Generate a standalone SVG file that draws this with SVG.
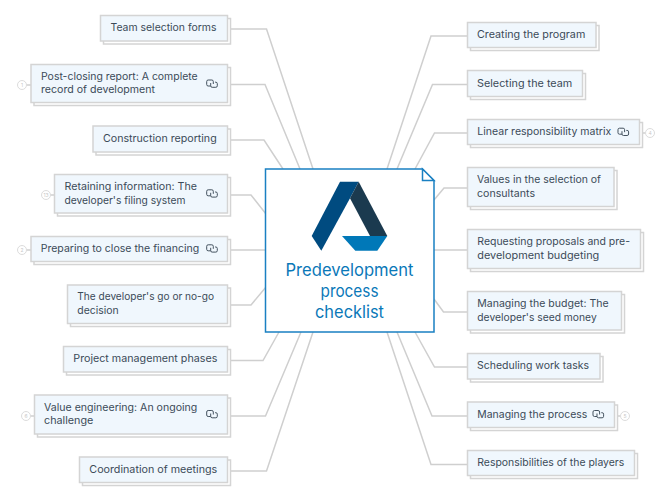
<svg xmlns="http://www.w3.org/2000/svg" width="672" height="500" viewBox="0 0 672 500">
<style>
.c{fill:none;stroke:#cfcfcf;stroke-width:1.5}
.s{fill:#fff;stroke:#d4d4d4;stroke-width:1.5}
.b{fill:#f0f7fd;stroke:#d4d4d4;stroke-width:1.5}
.t{font-family:Inter,"Noto Sans",sans-serif;font-size:10.500px;fill:#3b4a58}
.h{font-family:Inter,"Noto Sans",sans-serif;font-size:17px;fill:#0a78b8;text-anchor:middle}
.n{font-family:Inter,"Noto Sans",sans-serif;font-size:5px;fill:#c8c8c8;text-anchor:middle}
.o{fill:#fff;stroke:#dcdcdc;stroke-width:1}
.i{fill:none;stroke:#44525f;stroke-width:1}
</style>
<defs>
<g id="lnk"><path class="i" d="M-1.300 2.500H-3.800A1.500 1.500 0 0 1-5.300 1V-2A1.500 1.500 0 0 1-3.800-3.500H-.2A1.500 1.500 0 0 1 1.300-2V.5"/><path class="i" d="M-1.300 -.5V2.300A1.500 1.500 0 0 0 .2 3.800H3.800A1.500 1.500 0 0 0 5.300 2.300V.2A1.500 1.500 0 0 0 3.800-1.300H3"/></g>
</defs>
<g id="connectors">
<path class="c" d="M231 29H266.500L313 169"/>
<path class="c" d="M231 84.500H265L300 169"/>
<path class="c" d="M231 140H264L283 169"/>
<path class="c" d="M231 195H251L266 214"/>
<path class="c" d="M231 250H266"/>
<path class="c" d="M231 305H251L266 287"/>
<path class="c" d="M231 360.500H263L279 332"/>
<path class="c" d="M231 416H265.500L301 332"/>
<path class="c" d="M231 471H266.500L313 332"/>
<path class="c" d="M467 36H431L387 169"/>
<path class="c" d="M467 84.500H432.500L397 169"/>
<path class="c" d="M467 133H434.500L415 169"/>
<path class="c" d="M467 188H444L434 200"/>
<path class="c" d="M467 250H434"/>
<path class="c" d="M467 312H443.500L434 299"/>
<path class="c" d="M467 367H434.500L415 332"/>
<path class="c" d="M467 416H432L397 332"/>
<path class="c" d="M467 464.500H431L387 332"/>
<path class="c" d="M26.500 85H31M50.500 195H55M26.500 250H31M30.500 416H35M639 133H645.500M615 416H620.500"/>
</g>
<g id="center">
<path d="M265.500 169H422.500L434 180.500V332H265.500Z" fill="#fff" stroke="#1a80c2" stroke-width="1.500"/>
<path d="M422.500 169V180.500H434Z" fill="#fff" stroke="#1a80c2" stroke-width="1.500"/>
<polygon points="340,181.700 358.700,181.700 350,198.300 321.300,250.700 311.700,236" fill="#004b80"/>
<polygon points="358.700,181.700 387.300,236 370,236 350,198.300" fill="#1b3a4f"/>
<polygon points="342,236 387.300,236 377.300,250.700 355.300,250.700" fill="#0078b8"/>
<text class="h" x="349.500" y="276.300" textLength="128" lengthAdjust="spacingAndGlyphs">Predevelopment</text>
<text class="h" x="349.500" y="297.300" textLength="58" lengthAdjust="spacingAndGlyphs">process</text>
<text class="h" x="349.500" y="318" textLength="69" lengthAdjust="spacingAndGlyphs">checklist</text>
</g>
<g id="n1"><rect class="s" x="103.500" y="18.500" width="127" height="25.500"/><rect class="b" x="100.500" y="15.500" width="127" height="25.500"/><text class="t" x="110.500" y="31.300" textLength="106" lengthAdjust="spacingAndGlyphs">Team selection forms</text></g>
<g id="n2"><rect class="s" x="34" y="67.500" width="196.500" height="38"/><rect class="b" x="31" y="64.500" width="196.500" height="38"/><text class="t" x="41" y="79.800" textLength="156.700" lengthAdjust="spacingAndGlyphs">Post-closing report: A complete</text><text class="t" x="41" y="93.300" textLength="114" lengthAdjust="spacingAndGlyphs">record of development</text><use href="#lnk" x="212" y="83.500"/><circle class="o" cx="22" cy="85" r="4.500"/><text class="n" x="22" y="86.800">1</text></g>
<g id="n3"><rect class="s" x="96" y="129" width="134.500" height="26"/><rect class="b" x="93" y="126" width="134.500" height="26"/><text class="t" x="103" y="141.800" textLength="113.700" lengthAdjust="spacingAndGlyphs">Construction reporting</text></g>
<g id="n4"><rect class="s" x="57.500" y="177.500" width="173" height="38.500"/><rect class="b" x="54.500" y="174.500" width="173" height="38.500"/><text class="t" x="64.500" y="190.300" textLength="132.500" lengthAdjust="spacingAndGlyphs">Retaining information: The</text><text class="t" x="64.500" y="203.600" textLength="121" lengthAdjust="spacingAndGlyphs">developer's filing system</text><use href="#lnk" x="212" y="193.300"/><circle class="o" cx="46" cy="195" r="4.500"/><text class="n" x="46" y="196.800">13</text></g>
<g id="n5"><rect class="s" x="34" y="239.500" width="196.500" height="25"/><rect class="b" x="31" y="236.500" width="196.500" height="25"/><text class="t" x="40.700" y="252" textLength="158.600" lengthAdjust="spacingAndGlyphs">Preparing to close the financing</text><use href="#lnk" x="212" y="248.300"/><circle class="o" cx="22" cy="250" r="4.500"/><text class="n" x="22" y="251.800">2</text></g>
<g id="n6"><rect class="s" x="70.500" y="288" width="160" height="38.500"/><rect class="b" x="67.500" y="285" width="160" height="38.500"/><text class="t" x="77.300" y="300.300" textLength="136.700" lengthAdjust="spacingAndGlyphs">The developer's go or no-go</text><text class="t" x="77.300" y="313.600" textLength="41.400" lengthAdjust="spacingAndGlyphs">decision</text></g>
<g id="n7"><rect class="s" x="66.500" y="349.500" width="164" height="25.500"/><rect class="b" x="63.500" y="346.500" width="164" height="25.500"/><text class="t" x="73.300" y="362.300" textLength="144" lengthAdjust="spacingAndGlyphs">Project management phases</text></g>
<g id="n8"><rect class="s" x="37.500" y="398" width="193" height="39"/><rect class="b" x="34.500" y="395" width="193" height="39"/><text class="t" x="44" y="410.600" textLength="153.300" lengthAdjust="spacingAndGlyphs">Value engineering: An ongoing</text><text class="t" x="44" y="424.300" textLength="49.300" lengthAdjust="spacingAndGlyphs">challenge</text><use href="#lnk" x="212" y="414"/><circle class="o" cx="26" cy="416" r="4.500"/><text class="n" x="26" y="417.800">6</text></g>
<g id="n9"><rect class="s" x="82.500" y="460" width="148" height="25.500"/><rect class="b" x="79.500" y="457" width="148" height="25.500"/><text class="t" x="89.300" y="472.600" textLength="128" lengthAdjust="spacingAndGlyphs">Coordination of meetings</text></g>
<g id="n10"><rect class="s" x="470.500" y="25.500" width="128.500" height="25"/><rect class="b" x="467.500" y="22.500" width="128.500" height="25"/><text class="t" x="477" y="38.300" textLength="108.300" lengthAdjust="spacingAndGlyphs">Creating the program</text></g>
<g id="n11"><rect class="s" x="470.500" y="73.500" width="115" height="26"/><rect class="b" x="467.500" y="70.500" width="115" height="26"/><text class="t" x="477" y="86.600" textLength="95.300" lengthAdjust="spacingAndGlyphs">Selecting the team</text></g>
<g id="n12"><rect class="s" x="470.500" y="122.500" width="172" height="25"/><rect class="b" x="467.500" y="119.500" width="172" height="25"/><text class="t" x="477.300" y="135.300" textLength="134" lengthAdjust="spacingAndGlyphs">Linear responsibility matrix</text><use href="#lnk" x="623.300" y="131.700"/><circle class="o" cx="650" cy="133" r="4.500"/><text class="n" x="650" y="134.800">4</text></g>
<g id="n13"><rect class="s" x="470.500" y="170.500" width="146.500" height="39"/><rect class="b" x="467.500" y="167.500" width="146.500" height="39"/><text class="t" x="477" y="183.300" textLength="124" lengthAdjust="spacingAndGlyphs">Values in the selection of</text><text class="t" x="477" y="196.600" textLength="58" lengthAdjust="spacingAndGlyphs">consultants</text></g>
<g id="n14"><rect class="s" x="470.500" y="232.500" width="173" height="39"/><rect class="b" x="467.500" y="229.500" width="173" height="39"/><text class="t" x="477.300" y="245.300" textLength="152.700" lengthAdjust="spacingAndGlyphs">Requesting proposals and pre-</text><text class="t" x="477.300" y="258.600" textLength="122" lengthAdjust="spacingAndGlyphs">development budgeting</text></g>
<g id="n15"><rect class="s" x="470.500" y="294.500" width="154" height="38.500"/><rect class="b" x="467.500" y="291.500" width="154" height="38.500"/><text class="t" x="477.300" y="307.300" textLength="131.400" lengthAdjust="spacingAndGlyphs">Managing the budget: The</text><text class="t" x="477.300" y="320.600" textLength="119.400" lengthAdjust="spacingAndGlyphs">developer's seed money</text></g>
<g id="n16"><rect class="s" x="470.500" y="356.500" width="132.500" height="25.500"/><rect class="b" x="467.500" y="353.500" width="132.500" height="25.500"/><text class="t" x="477" y="369.300" textLength="112" lengthAdjust="spacingAndGlyphs">Scheduling work tasks</text></g>
<g id="n17"><rect class="s" x="470.500" y="405" width="147" height="25.500"/><rect class="b" x="467.500" y="402" width="147" height="25.500"/><text class="t" x="477.300" y="417.600" textLength="110" lengthAdjust="spacingAndGlyphs">Managing the process</text><use href="#lnk" x="598.300" y="414"/><circle class="o" cx="625" cy="416" r="4.500"/><text class="n" x="625" y="417.800">5</text></g>
<g id="n18"><rect class="s" x="470.500" y="453.500" width="167" height="25"/><rect class="b" x="467.500" y="450.500" width="167" height="25"/><text class="t" x="477.300" y="466" textLength="147" lengthAdjust="spacingAndGlyphs">Responsibilities of the players</text></g>
</svg>
